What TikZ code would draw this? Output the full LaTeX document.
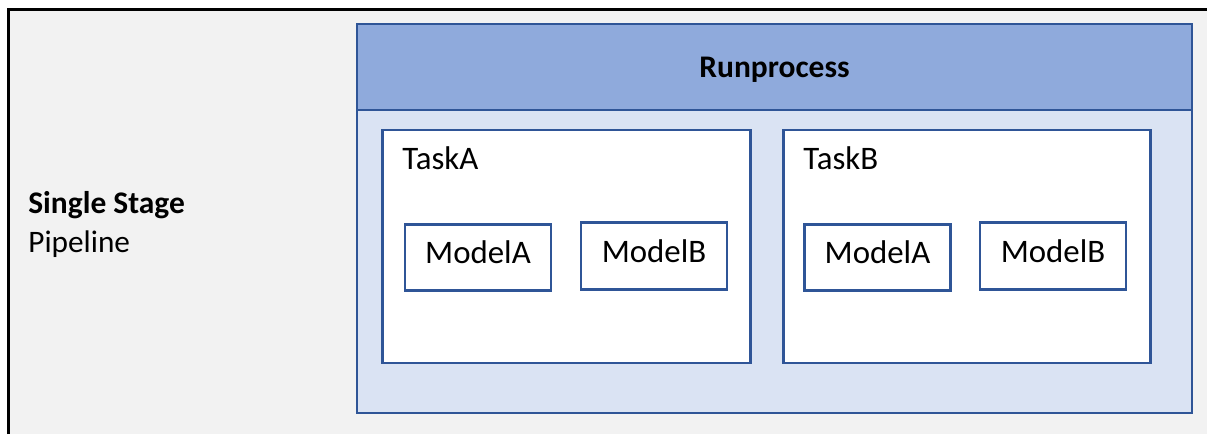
\documentclass[tikz,border=0pt]{standalone}
\usepackage{fontspec}
\setmainfont{Carlito}
\usetikzlibrary{positioning,backgrounds}
\definecolor{rpFrame}{RGB}{242,242,242}
\definecolor{rpBlue}{RGB}{47,85,151}
\definecolor{rpHead}{RGB}{143,170,220}
\definecolor{rpBody}{RGB}{218,227,243}
\tikzset{
  rtitle/.style={font=\bfseries\fontsize{17.9}{21}\selectfont,
    text=black, inner sep=0pt},
  rlabel/.style={font=\fontsize{17.8}{21}\selectfont,
    text=black, inner sep=0pt},
  rtext/.style={font=\fontsize{18.7}{22}\selectfont,
    text=black, inner sep=0pt},
  rbox/.style={draw=rpBlue, line width=1.6pt}
}

\begin{document}
\begin{tikzpicture}[
  runbody/.style={rbox, fill=rpBody, minimum width=16.70cm,
    minimum height=6.06cm},
  runhead/.style={rbox, rtitle, fill=rpHead, minimum width=16.70cm,
    minimum height=1.72cm, text depth=0pt},
  task/.style={rbox, fill=white, minimum width=7.35cm,
    minimum height=4.66cm},
  model/.style={rbox, rtext, fill=white, minimum width=2.92cm,
    minimum height=1.33cm, text depth=.2cm}
]
\path[use as bounding box] (0,0) rectangle (24.14,8.68);

\fill[rpFrame] (0.17,0) rectangle (24.14,8.49);
\draw[black, line width=1.7pt] (0.17,0) -- (0.17,8.49) -- (24.14,8.49);

\node[rtitle, anchor=base west] (stageTitle) at (0.56,4.42) {Single Stage};
\node[rlabel, anchor=base west] (stageSub) at (0.56,3.64) {Pipeline};

\node[runbody] (runbody) at (15.49,3.45) {};
\node[runhead] (runhead) at (15.49,7.34) {Runprocess};

\node[task] (taskA) at (11.33,3.75) {};
\node[task] (taskB) at (19.34,3.75) {};
\node[rtext, anchor=base west] (taskAlabel) at (8.04,5.30) {TaskA};
\node[rtext, anchor=base west] (taskBlabel) at (16.06,5.30) {TaskB};

\node[model] (aModelA) at (9.56,3.53) {ModelA};
\node[model] (aModelB) at (13.08,3.56) {ModelB};
\node[model] (bModelA) at (17.55,3.53) {ModelA};
\node[model] (bModelB) at (21.06,3.56) {ModelB};
\end{tikzpicture}
\end{document}
